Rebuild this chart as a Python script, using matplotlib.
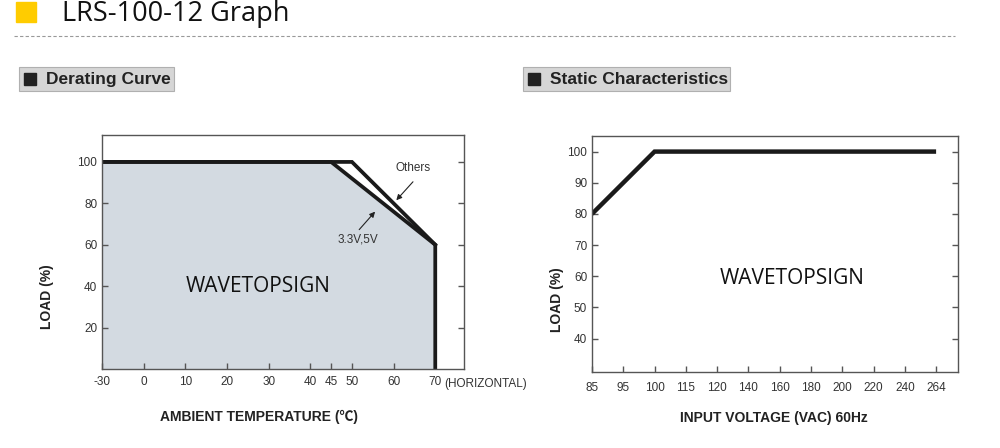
import numpy as np
import matplotlib.pyplot as plt
from matplotlib.patches import Rectangle

# -------------------------------
# data
# -------------------------------
temp_others = [-30, 50, 70]
load_others = [100, 100, 60]
temp_low = [-30, 45, 70, 70]          # 3.3V,5V curve, incl. the drop at 70C
load_low = [100, 100, 60, 0]
temp_ticks = [-30, 0, 10, 20, 30, 40, 45, 50, 60, 70]
load_ticks_a = [20, 40, 60, 80, 100]

volt_labels = ["85", "95", "100", "115", "120", "140", "160", "180", "200", "220", "240", "264"]
volt_pts = ["85", "100", "264"]
load_static = [80, 100, 100]
load_ticks_b = [40, 50, 60, 70, 80, 90, 100]


def tpos(t):
    # the temperature axis squeezes -30..0 into one 10-degree step
    return np.interp(t, [-30, 0, 70], [-1, 0, 7])


W, H = 1000, 448
fig = plt.figure(figsize=(W / 100, H / 100), dpi=100)
plt.rcParams['font.family'] = ['Liberation Sans', 'DejaVu Sans']

line_col = "#1a1a1a"
spine_col = "#555555"
tick_col = "#333333"


def px(x0, y0, x1, y1):
    # pixel box (top-left origin) -> figure fraction rect
    return [x0 / W, 1 - y1 / H, (x1 - x0) / W, (y1 - y0) / H]


# -------------------------------
# header
# -------------------------------
fig.patches.append(Rectangle((16 / W, 1 - 22 / H), 20 / W, 20 / H, transform=fig.transFigure,
                             color="#ffcc00", zorder=1))
fig.text(62 / W, 1 - 13.5 / H, "LRS-100-12 Graph", fontsize=19.5, family=["Open Sans", "DejaVu Sans"],
         va="center", ha="left", color="#111111")
fig.add_artist(plt.Line2D([14 / W, 955 / W], [1 - 36 / H, 1 - 36 / H], transform=fig.transFigure,
                          color="#999999", lw=0.8, ls=(0, (3, 2))))


def section(x0, x1, label):
    fig.patches.append(Rectangle((x0 / W, 1 - 91 / H), (x1 - x0) / W, 24 / H, transform=fig.transFigure,
                                 facecolor="#d6d6d6", edgecolor="#b0b0b0", lw=0.8))
    fig.patches.append(Rectangle(((x0 + 5) / W, 1 - 85 / H), 12 / W, 12 / H, transform=fig.transFigure,
                                 color="#222222"))
    fig.text((x0 + 27) / W, 1 - 79.5 / H, label, fontsize=12.5, fontweight="bold",
             va="center", ha="left", color="#222222")


section(19, 174, "Derating Curve")
section(523, 730, "Static Characteristics")


def style_axes(ax):
    for s in ax.spines.values():
        s.set_color(spine_col)
        s.set_linewidth(1.0)
    ax.tick_params(direction="in", length=4, width=1, color=spine_col, labelsize=8.5,
                   labelcolor=tick_col, right=True, top=False)


# -------------------------------
# derating curve
# -------------------------------
ax1 = fig.add_axes(px(102, 135, 464, 369))
ax1.fill_between(tpos(temp_low), load_low, 0, color="#d3dae1", lw=0)
ax1.plot(tpos(temp_others), load_others, color=line_col, lw=2.7, solid_joinstyle="miter")
ax1.plot(tpos(temp_low), load_low, color=line_col, lw=2.7, solid_joinstyle="miter")
ax1.set_xlim(-1, 7.69)
ax1.set_ylim(0, 113)
ax1.set_xticks(tpos(temp_ticks))
ax1.set_xticklabels([str(t) for t in temp_ticks])
ax1.set_yticks(load_ticks_a)
style_axes(ax1)
ax1.tick_params(axis="x", pad=5)
ax1.annotate("(HORIZONTAL)", xy=(7, 0), xycoords=("data", "axes fraction"), xytext=(6.5, -11),
             textcoords="offset points", fontsize=8.5, color=tick_col, ha="left", va="center")

ax1.annotate("", xy=(6.02, 80.5), xytext=(6.51, 91.4),
             arrowprops=dict(arrowstyle="-|>", color="#222222", lw=0.8, mutation_scale=8))
ax1.text(6.46, 97.3, "Others", fontsize=8.5, color=tick_col, ha="center", va="center")
ax1.annotate("", xy=(5.6, 77), xytext=(5.13, 66.3),
             arrowprops=dict(arrowstyle="-|>", color="#222222", lw=0.8, mutation_scale=8))
ax1.text(5.15, 62.4, "3.3V,5V", fontsize=8.5, color=tick_col, ha="center", va="center")
ax1.text(2.75, 39.8, "WAVETOPSIGN", fontsize=15, family=["Open Sans", "DejaVu Sans"],
         ha="center", va="center", color="#111111")

fig.text(47 / W, 1 - 297 / H, "LOAD (%)", rotation=90, fontsize=10, fontweight="bold",
         ha="center", va="center", color="#222222")
fig.text(259 / W, 1 - 417 / H, "AMBIENT TEMPERATURE (℃)", fontsize=10, fontweight="bold",
         ha="center", va="center", color="#222222", family=["Liberation Sans", "Noto Sans CJK SC"])

# -------------------------------
# static characteristics
# -------------------------------
ax2 = fig.add_axes(px(592, 136, 958, 372))
xs = [volt_labels.index(v) for v in volt_pts]
ax2.plot(xs, load_static, color=line_col, lw=3.2, solid_joinstyle="miter", solid_capstyle="butt")
ax2.set_xlim(0, 11.7)
ax2.set_ylim(29.3, 105)
ax2.set_xticks(range(len(volt_labels)))
ax2.set_xticklabels(volt_labels)
ax2.set_yticks(load_ticks_b)
style_axes(ax2)
ax2.tick_params(axis="x", pad=7)
ax2.text(6.4, 59.4, "WAVETOPSIGN", fontsize=15, family=["Open Sans", "DejaVu Sans"],
         ha="center", va="center", color="#111111")

fig.text(557 / W, 1 - 300 / H, "LOAD (%)", rotation=90, fontsize=10, fontweight="bold",
         ha="center", va="center", color="#222222")
fig.text(774 / W, 1 - 418 / H, "INPUT VOLTAGE (VAC) 60Hz", fontsize=10, fontweight="bold",
         ha="center", va="center", color="#222222")

fig.savefig("out.png", dpi=100)
